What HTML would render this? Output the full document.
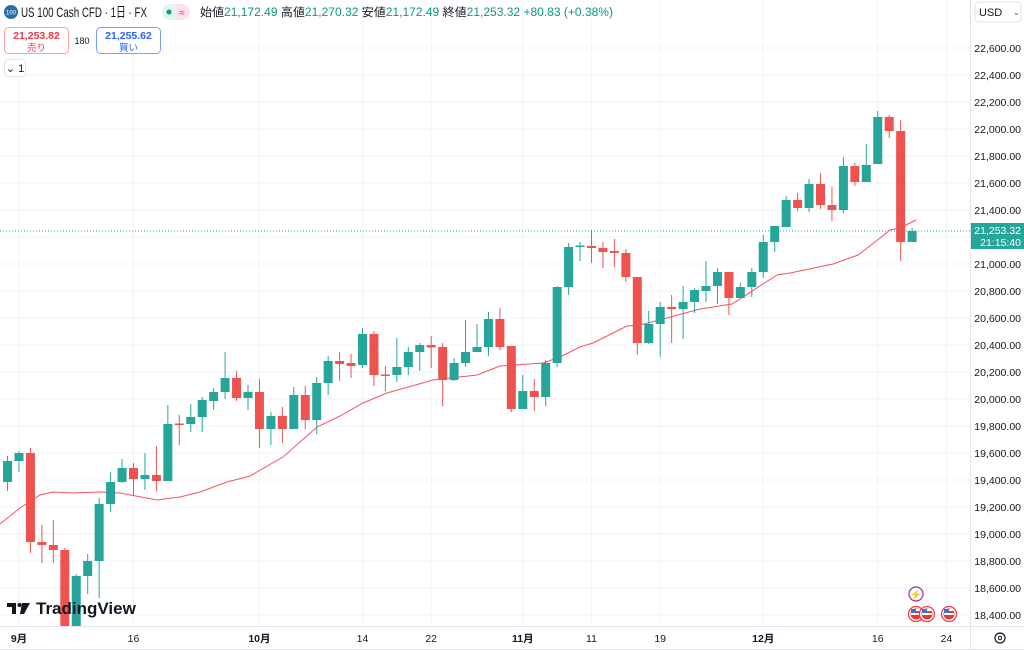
<!DOCTYPE html>
<html><head><meta charset="utf-8">
<style>
html,body{margin:0;padding:0;background:#fff;width:1024px;height:650px;overflow:hidden;font-family:"Liberation Sans","Noto Sans CJK JP",sans-serif;}
svg{position:absolute;left:0;top:0}
</style></head><body>
<svg id="s" width="1024" height="650" xmlns="http://www.w3.org/2000/svg" font-family="Liberation Sans, Noto Sans CJK JP, sans-serif"></svg>
<script>
const s=document.getElementById('s');
let h='';
const Y=p=>48+(22600-p)*0.135;
for(let p=18400;p<=22600;p+=200){const y=Y(p);h+=`<line x1="0" x2="970" y1="${y}" y2="${y}" stroke="#f0f3fa" stroke-width="1"/>`;
h+=`<text x="1021" y="${y+4}" font-size="10.5" fill="#131722" text-anchor="end">${p.toLocaleString('en-US')}.00</text>`;}
const X=i=>19+11.45*i;
const dates=[[0,'9月'],[10,'16'],[21,'10月'],[30,'14'],[36,'22'],[44,'11月'],[50,'11'],[56,'19'],[65,'12月'],[75,'16'],[81,'24']];
dates.forEach(d=>{const x=X(d[0]);h+=`<line x1="${x}" x2="${x}" y1="0" y2="626" stroke="#f0f3fa"/>`;
h+=`<text x="${x}" y="642" font-size="10.5" fill="#131722" text-anchor="middle" font-weight="${d[1].includes('月')?'bold':'normal'}">${d[1]}</text>`;});
h+=`<line x1="970.5" x2="970.5" y1="0" y2="650" stroke="#e0e3eb"/>`;
h+=`<line x1="0" x2="1024" y1="626.5" y2="626.5" stroke="#e0e3eb"/>`;
h+=`<line x1="0" x2="1024" y1="649.5" y2="649.5" stroke="#e0e3eb"/>`;
h+=`<line x1="0" x2="970" y1="231" y2="231" stroke="#26a69a" stroke-width="1" stroke-dasharray="1,2"/>`;
const ma=[[0,524],[20,508],[40,495],[53,492],[73,493],[100,492],[120,493],[157,500],[180,497],[200,492],[227,482],[250,476],[283,457],[317,427],[340,416],[363,403],[387,393],[433,380],[477,375],[500,366],[543,363],[560,357],[580,347],[593,343],[627,326],[640,325],[663,319],[700,309],[732,304],[777,275],[790,273],[833,264],[858,255],[875,242],[890,230],[900,228],[916,220]];
h+=`<polyline fill="none" stroke="#f7525f" stroke-width="1" points="${ma.map(p=>p.join(',')).join(' ')}"/>`;
const c=[
[-1,461,482,456,491,'g'],[0,453,461,451,472,'g'],[1,453,542,448,553,'r'],[2,542,545,525,563,'r'],[3,545,550,520,563,'r'],
[4,550,640,548,650,'r'],[5,576,640,574,650,'g'],[6,561,576,554,594,'g'],[7,504,561,498,598,'g'],[8,482,504,472,512,'g'],
[9,468,482,459,483,'g'],[10,468,479,463,495,'r'],[11,475,479,453,490,'g'],[12,475,481,446,491,'r'],[13,424,481,405,481,'g'],
[14,423.5,425,415,445,'r'],[15,417,424,404,432,'g'],[16,400,417,397,432,'g'],[17,392,401,388,410,'g'],[18,378,392,352,399,'g'],
[19,378,398,371,401,'r'],[20,392,398,385,410,'g'],[21,392,429,379,448,'r'],[22,416,429,412,445,'g'],[23,416,429,407,443,'r'],
[24,395,429,387,429,'g'],[25,395,420,386,429,'r'],[26,383,420,377,434,'g'],[27,361,383,356,395,'g'],[28,361,364,352,381,'r'],
[29,363,366,354,378,'r'],[30,334,365,328,368,'g'],[31,334,375,331,386,'r'],[32,374.5,376,366,391,'r'],[33,367,375,338,382,'g'],
[34,352,367,347,375,'g'],[35,345,352,343,371,'g'],[36,345,347.5,336,368,'r'],[37,347,380,343,406,'r'],[38,363,380,358,381,'g'],
[39,352,363,320,367,'g'],[40,347,352,324,352,'g'],[41,319,347,312,356,'g'],[42,319,347,308,350,'r'],[43,346,409,346,412,'r'],
[44,391,409,375,409,'g'],[45,391,397,379,411,'r'],[46,363,397,360,406,'g'],[47,287,363,286,367,'g'],[48,247,287,243,295,'g'],
[49,245.5,247,242,261,'g'],[50,246,248,230,263,'r'],[51,248,252,242,268,'r'],[52,251,253,239,267,'r'],[53,253,277,249,282,'r'],
[54,277,343,277,355,'r'],[55,324,343,311,344,'g'],[56,307,324,302,357,'g'],[57,307,309,295,343,'r'],[58,302,309,286,339,'g'],
[59,290,302,288,313,'g'],[60,286,291,261,302,'g'],[61,272,286,268,304,'g'],[62,272,298,272,315,'r'],[63,287,298,283,298,'g'],
[64,272,287,268,297,'g'],[65,242,272,235,278,'g'],[66,226,242,226,252,'g'],[67,200,227,196,227,'g'],[68,200,208,193,211,'r'],
[69,184,208,179,212,'g'],[70,184,205,173,209,'r'],[71,205,210,187,221,'r'],[72,166,210,157,213,'g'],[73,166,182,163,186,'r'],
[74,165,182,144,182,'g'],[75,117,164,111,164,'g'],[76,117,131,115,138,'r'],[77,131,242,120,261,'r'],[78,231,242,228,242,'g']];
let cs='';
c.forEach(k=>{const x=X(k[0]);const col=k[5]=='g'?'#26a69a':'#ef5350';
const top=k[1],bot=Math.max(k[2],k[1]+1.5);
cs+=`<line x1="${x}" x2="${x}" y1="${k[3]}" y2="${k[4]}" stroke="${col}" stroke-width="1"/>`;
cs+=`<rect x="${x-4.5}" y="${top}" width="9" height="${bot-top}" fill="${col}"/>`;});
h+=`<g clip-path="url(#cp)">${cs}</g>`;
h=`<defs><clipPath id="cp"><rect x="0" y="0" width="970" height="626"/></clipPath></defs>`+h;
h+=`<rect x="971" y="223" width="53" height="26" fill="#26a69a"/>`;
h+=`<text x="1021" y="234" font-size="10.5" fill="#fff" text-anchor="end">21,253.32</text><text x="1021" y="246" font-size="10.5" fill="#fff" text-anchor="end">21:15:40</text>`;
h+=`<rect x="975" y="2" width="46" height="20" rx="3" fill="#fff" stroke="#e0e3eb"/><text x="979" y="16" font-size="11" fill="#131722">USD</text><text x="1013" y="15" font-size="8" fill="#555">⌄</text>`;
h+=`<circle cx="1000" cy="638" r="5" fill="none" stroke="#131722" stroke-width="1.2"/><circle cx="1000" cy="638" r="1.6" fill="none" stroke="#131722"/>`;
h+=`<circle cx="916" cy="594" r="7" fill="#fff" stroke="#9c27b0" stroke-width="1.2"/><text x="916" y="598" font-size="10" fill="#9c27b0" text-anchor="middle">⚡</text>`;
[916,927,949].forEach(x=>{h+=`<circle cx="${x}" cy="614" r="7.5" fill="#fff" stroke="#f23645" stroke-width="1.2"/><circle cx="${x}" cy="614" r="5.5" fill="#e53935"/><rect x="${x-5}" y="609" width="10" height="2" fill="#fff"/><rect x="${x-5}" y="613" width="10" height="2" fill="#fff"/><rect x="${x-5}" y="609" width="5" height="4" fill="#3f6fd8"/>`;});
h+=`<path d="M7 603h9v11h-4v-7h-5z" fill="#131722"/><circle cx="19.5" cy="605" r="2" fill="#131722"/><path d="M22 603h8l-6 11h-4z" fill="#131722"/>`;
h+=`<text x="36" y="614" font-size="17" font-weight="bold" fill="#131722">TradingView</text>`;
h+=`<circle cx="11" cy="12" r="7" fill="#2a6fa8"/><text x="11" y="14.5" font-size="6" fill="#fff" text-anchor="middle">100</text>`;
h+=`<text x="21" y="17" font-size="14" fill="#131722" textLength="126" lengthAdjust="spacingAndGlyphs">US 100 Cash CFD · 1日 · FX</text>`;
h+=`<rect x="162" y="4" width="28" height="16" rx="8" fill="#e3f3f0"/><path d="M176 4h6a8 8 0 0 1 0 16h-6z" fill="#fde2ea"/><circle cx="169" cy="12" r="2.5" fill="#089981"/><text x="182" y="16" font-size="10" fill="#e91e63" text-anchor="middle">≈</text>`;
h+=`<text x="200" y="16" font-size="11.5" fill="#131722" textLength="413" lengthAdjust="spacingAndGlyphs">始値<tspan fill="#089981">21,172.49</tspan> 高値<tspan fill="#089981">21,270.32</tspan> 安値<tspan fill="#089981">21,172.49</tspan> 終値<tspan fill="#089981">21,253.32 +80.83 (+0.38%)</tspan></text>`;
h+=`<rect x="4.5" y="27.5" width="64" height="26" rx="4" fill="#fff" stroke="#f7a1a5"/><text x="36.5" y="39" font-size="10.5" font-weight="bold" fill="#f23645" text-anchor="middle">21,253.82</text><text x="36.5" y="51" font-size="9.5" fill="#f23645" text-anchor="middle">売り</text>`;
h+=`<text x="82" y="44" font-size="9" fill="#131722" text-anchor="middle">180</text>`;
h+=`<rect x="96.5" y="27.5" width="64" height="26" rx="4" fill="#fff" stroke="#7a9ff7"/><text x="128.5" y="39" font-size="10.5" font-weight="bold" fill="#2962ff" text-anchor="middle">21,255.62</text><text x="128.5" y="51" font-size="9.5" fill="#2962ff" text-anchor="middle">買い</text>`;
h+=`<rect x="4.5" y="59.5" width="21" height="17" rx="3" fill="#fff" stroke="#e0e3eb"/><text x="15" y="72" font-size="11" fill="#131722" text-anchor="middle">⌄ 1</text>`;
s.innerHTML=h;
</script>
</body></html>
